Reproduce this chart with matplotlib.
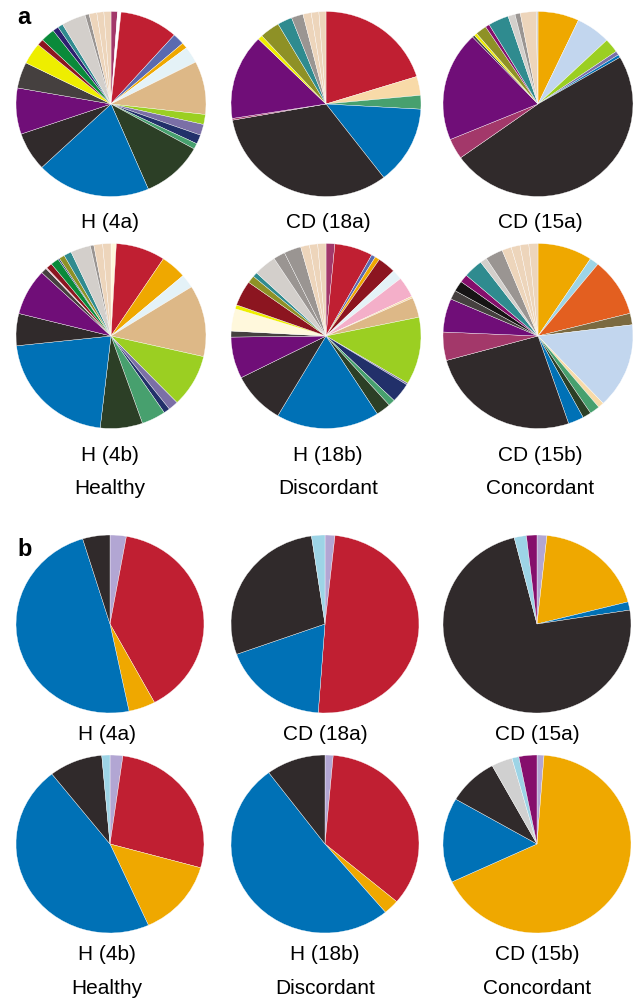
import matplotlib.pyplot as plt

plt.rcParams['font.family'] = ['Liberation Sans', 'DejaVu Sans']

W, H = 637, 1000

colors = {
    'red': '#C01F32', 'blue': '#0071B6', 'orange': '#EFA800', 'black': '#302A2B',
    'lavender': '#B2A6D3', 'lightblue': '#9DD4E6', 'magenta': '#850F6C',
    'lightgray': '#D0D0D0', 'purple': '#700E78', 'raspberry': '#A3386A',
    'slate': '#5A6AB0', 'paleblue': '#E4F2F7', 'tan': '#DDB887',
    'ygreen': '#9BCF22', 'lavgray': '#7B6FA6', 'navy': '#22306A',
    'green': '#47A06E', 'dkgreen': '#2C3F26', 'dkgray': '#45403F',
    'yellow': '#EEEE00', 'dkred': '#8C1520', 'green2': '#0A8A3A',
    'indigo': '#2D2070', 'teal': '#2F8B8F', 'ltgray': '#D3CFCB',
    'midgray': '#9A9592', 'lighttan': '#EDD5BB', 'peach': '#F8DAA8',
    'olive': '#8E9126', 'lbgray': '#C2D6EE', 'pink': '#F4AFC9',
    'cream': '#FFF8DC', 'orangered': '#E35F20', 'brown': '#7B6A40',
    'black2': '#161414', 'white': '#FFFFFF',
}

# ---- panel a: relative abundance (%), clockwise from 12 o'clock ----
a_h4a_taxa = ['raspberry', 'white', 'red', 'slate', 'orange', 'paleblue', 'tan',
              'ygreen', 'lavgray', 'navy', 'green', 'dkgreen', 'blue', 'black',
              'purple', 'dkgray', 'yellow', 'dkred', 'green2', 'indigo', 'teal',
              'ltgray', 'midgray', 'lighttan', 'lighttan', 'lighttan']
a_h4a_pct = [1.1, 0.6, 9.9, 2.0, 1.0, 2.9, 9.3, 1.75, 1.9, 1.6, 1.0, 10.5, 19.4,
             6.75, 8.05, 4.55, 3.75, 1.1, 2.4, 1.0, 0.9, 4.1, 0.7, 1.3, 1.2, 1.2]

a_cd18a_taxa = ['red', 'peach', 'green', 'blue', 'black', 'raspberry', 'purple',
                'yellow', 'olive', 'teal', 'midgray', 'lighttan', 'lighttan',
                'lighttan']
a_cd18a_pct = [20.2, 3.3, 2.4, 13.7, 32.6, 0.3, 14.9, 0.8, 3.4, 2.5, 2.0, 1.4,
               1.3, 1.2]

a_cd15a_taxa = ['orange', 'lbgray', 'ygreen', 'lavgray', 'blue', 'black',
                'raspberry', 'purple', 'dkgray', 'yellow', 'olive', 'magenta',
                'teal', 'ltgray', 'midgray', 'lighttan', 'ltgray']
a_cd15a_pct = [7.0, 5.9, 2.5, 0.7, 0.5, 48.6, 3.6, 19.2, 0.4, 0.5, 1.9, 0.7,
               3.5, 1.2, 0.9, 2.7, 0.3]

a_h4b_taxa = ['cream', 'red', 'orange', 'paleblue', 'tan', 'ygreen', 'lavgray',
              'navy', 'green', 'dkgreen', 'blue', 'black', 'purple', 'dkgray',
              'pink', 'dkred', 'green2', 'navy', 'olive', 'teal', 'ltgray',
              'midgray', 'lighttan', 'lighttan']
a_h4b_pct = [0.9, 8.4, 4.4, 2.4, 12.5, 9.2, 1.7, 1.05, 4.1, 7.2, 21.5, 5.6, 8.1,
             1.0, 0.2, 1.0, 1.4, 0.25, 0.95, 1.3, 3.4, 0.6, 1.5, 1.4]

a_h18b_taxa = ['raspberry', 'red', 'slate', 'orange', 'dkred', 'paleblue', 'pink',
               'peach', 'tan', 'ygreen', 'lavgray', 'navy', 'green', 'dkgreen',
               'blue', 'black', 'purple', 'dkgray', 'cream', 'yellow', 'dkred',
               'olive', 'teal', 'ltgray', 'midgray', 'midgray', 'lighttan',
               'lighttan', 'lighttan']
a_h18b_pct = [1.5, 6.5, 0.7, 0.8, 3.1, 1.75, 3.6, 0.3, 3.5, 11.8, 0.3, 3.45, 1.15,
              2.5, 17.55, 9.1, 7.25, 1.05, 3.9, 0.7, 4.4, 1.3, 0.8, 3.85, 2.0,
              2.9, 1.5, 1.4, 1.4]

a_cd15b_taxa = ['orange', 'lightblue', 'orangered', 'brown', 'lbgray', 'peach',
                'green', 'dkgreen', 'blue', 'black', 'raspberry', 'purple',
                'dkgray', 'black2', 'magenta', 'teal', 'ltgray', 'midgray',
                'lighttan', 'lighttan', 'lighttan', 'lighttan']
a_cd15b_pct = [9.3, 1.55, 10.2, 2.0, 14.9, 1.0, 1.7, 1.45, 2.65, 25.95, 4.95,
               5.85, 1.6, 1.85, 1.4, 3.3, 1.15, 3.0, 1.6, 1.5, 1.5, 1.55]

# ---- panel b: phylum-level abundance (%) ----
b_h4a_taxa = ['lavender', 'red', 'orange', 'blue', 'black']
b_h4a_pct = [2.8, 39.4, 4.6, 48.6, 4.7]

b_cd18a_taxa = ['lavender', 'red', 'blue', 'black', 'lightblue']
b_cd18a_pct = [1.7, 49.4, 18.3, 28.2, 2.3]

b_cd15a_taxa = ['lavender', 'orange', 'blue', 'black', 'lightblue', 'magenta']
b_cd15a_pct = [1.7, 19.3, 1.5, 73.6, 2.1, 1.8]

b_h4b_taxa = ['lavender', 'red', 'orange', 'blue', 'black', 'lightblue']
b_h4b_pct = [2.2, 27.1, 14.0, 46.1, 9.2, 1.4]

b_h18b_taxa = ['lavender', 'red', 'orange', 'blue', 'black']
b_h18b_pct = [1.4, 34.8, 2.7, 50.9, 10.2]

b_cd15b_taxa = ['lavender', 'orange', 'blue', 'black', 'lightgray', 'lightblue',
                'magenta']
b_cd15b_pct = [1.2, 66.8, 15.4, 8.7, 3.6, 1.2, 3.1]

sample_labels_top = ['H (4a)', 'CD (18a)', 'CD (15a)']
sample_labels_bottom = ['H (4b)', 'H (18b)', 'CD (15b)']
group_labels = ['Healthy', 'Discordant', 'Concordant']

fig = plt.figure(figsize=(W / 100, H / 100), dpi=100)


def draw_pie(cx, cy, w, h, vals, keys):
    # pixel box -> figure fraction, y measured from the top
    ax = fig.add_axes([(cx - w / 2) / W, 1 - (cy + h / 2) / H, w / W, h / H])
    ax.pie(vals, colors=[colors[k] for k in keys], startangle=90,
           counterclock=False, radius=1,
           wedgeprops=dict(edgecolor='white', linewidth=0.25))
    ax.set_xlim(-1, 1)
    ax.set_ylim(-1, 1)
    ax.set_aspect('auto')
    ax.axis('off')


def label(x, y, s, **kw):
    fig.text(x / W, 1 - y / H, s, ha='center', va='center', fontsize=15, **kw)


col_x = [111, 326, 538]
lab_a = [110, 328, 540]
lab_b = [107, 325, 537]

pies_a = [(a_h4a_pct, a_h4a_taxa), (a_cd18a_pct, a_cd18a_taxa), (a_cd15a_pct, a_cd15a_taxa),
          (a_h4b_pct, a_h4b_taxa), (a_h18b_pct, a_h18b_taxa), (a_cd15b_pct, a_cd15b_taxa)]
pies_b = [(b_h4a_pct, b_h4a_taxa), (b_cd18a_pct, b_cd18a_taxa), (b_cd15a_pct, b_cd15a_taxa),
          (b_h4b_pct, b_h4b_taxa), (b_h18b_pct, b_h18b_taxa), (b_cd15b_pct, b_cd15b_taxa)]

for i, (vals, keys) in enumerate(pies_a):
    r, c = divmod(i, 3)
    draw_pie(col_x[c], [104, 336][r], 190, 185, vals, keys)

for i, (vals, keys) in enumerate(pies_b):
    r, c = divmod(i, 3)
    draw_pie(col_x[c] - 1, [624, 844][r], 188, 178, vals, keys)

for c in range(3):
    label(lab_a[c], 222, sample_labels_top[c])
    label(lab_a[c], 455, sample_labels_bottom[c])
    label(lab_a[c], 489, group_labels[c])
    label(lab_b[c], 735, sample_labels_top[c])
    label(lab_b[c], 955, sample_labels_bottom[c])
    label(lab_b[c], 989, group_labels[c])

fig.text(17 / W, 1 - 17 / H, 'a', fontsize=17, fontweight='bold', va='center', ha='left')
fig.text(17 / W, 1 - 549 / H, 'b', fontsize=17, fontweight='bold', va='center', ha='left')

fig.savefig('out.png', dpi=100)
